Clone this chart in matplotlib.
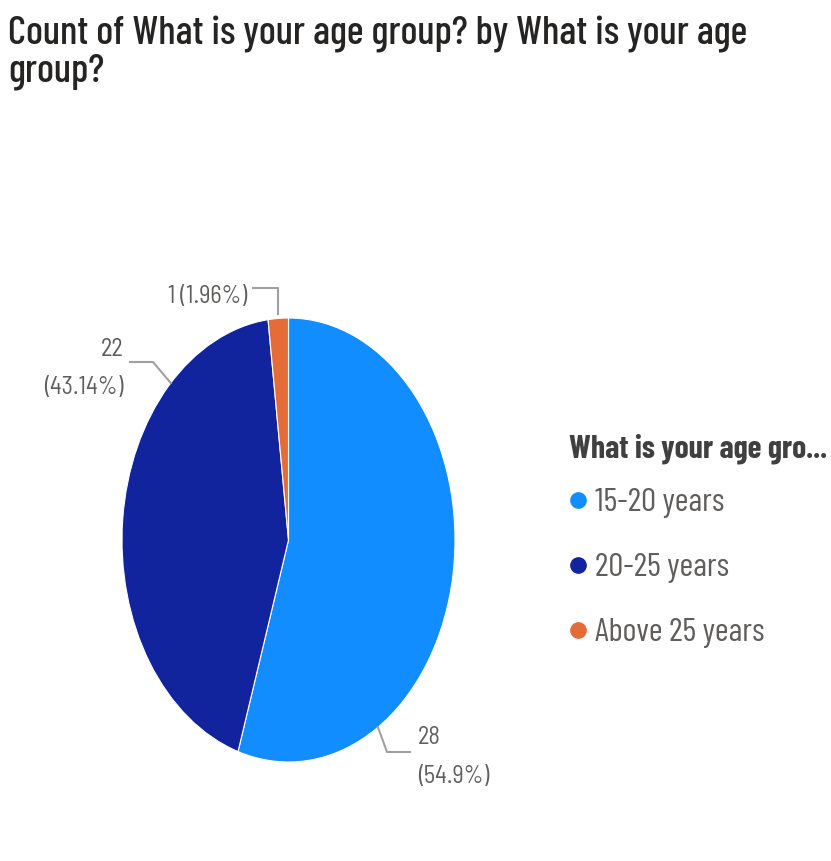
import matplotlib
matplotlib.use('Agg')
import numpy as np
import matplotlib.pyplot as plt
from matplotlib.lines import Line2D

# ---- data ----
title = "Count of What is your age group? by What is your age\ngroup?"
legend_title = "What is your age gro..."
categories = ["15-20 years", "20-25 years", "Above 25 years"]
counts = [28, 22, 1]
percents = ["54.9%", "43.14%", "1.96%"]
colors = ["#118DFF", "#12239E", "#E66C37"]

W, H = 831, 861
fig = plt.figure(figsize=(W / 100, H / 100), dpi=100)
FONT = "Barlow Condensed"
LBL_FONT = "Barlow Semi Condensed"

def fx(x):
    return x / W

def fy(y):
    return 1 - y / H

# pie axes (elliptical pie, as in the reference)
left, right, top, bottom = 122, 455, 318, 762
ax = fig.add_axes([fx(left), fy(bottom), (right - left) / W, (bottom - top) / H])
wedges, _ = ax.pie(counts, colors=colors, startangle=90, counterclock=False,
                   wedgeprops=dict(edgecolor="white", linewidth=0.8))
ax.set_aspect("auto")
ax.set_xlim(-1, 1)
ax.set_ylim(-1, 1)
ax.axis("off")

# title
fig.text(fx(8), fy(81), title, fontsize=28.7, family=FONT, weight=500,
         color="#252423", ha="left", va="baseline", linespacing=1.0)

# data labels with leader lines
lblc = "#605E5C"
linec = "#A0A0A0"
LS = 17.5

def ellipse_pt(deg):
    t = np.deg2rad(deg)
    d = ax.transData.transform((np.cos(t), np.sin(t)))
    return d[0], H - d[1]

def leader(pts):
    xs = [fx(p[0]) for p in pts]
    ys = [fy(p[1]) for p in pts]
    fig.add_artist(Line2D(xs, ys, transform=fig.transFigure, color=linec, lw=1.5))

# "1 (1.96%)"
a = ellipse_pt(93.5)
leader([(a[0], a[1] - 4), (a[0], 288), (253, 288)])
fig.text(fx(247), fy(296), f"{counts[2]} ({percents[2]})", fontsize=LS,
         family=LBL_FONT, color=lblc, ha="right", va="center")

# "22 (43.14%)"
a = ellipse_pt(135)
leader([(a[0], a[1]), (153, 362), (130, 362)])
fig.text(fx(123), fy(350), f"{counts[1]}", fontsize=LS, family=LBL_FONT,
         color=lblc, ha="right", va="center")
fig.text(fx(123), fy(387), f"({percents[1]})", fontsize=LS, family=LBL_FONT,
         color=lblc, ha="right", va="center")

# "28 (54.9%)"
a = ellipse_pt(-57.5)
leader([(a[0], a[1]), (387, 752), (410, 752)])
fig.text(fx(418), fy(737), f"{counts[0]}", fontsize=LS, family=LBL_FONT,
         color=lblc, ha="left", va="center")
fig.text(fx(418), fy(777), f"({percents[0]})", fontsize=LS, family=LBL_FONT,
         color=lblc, ha="left", va="center")

# legend title
fig.text(fx(569), fy(457), legend_title, fontsize=22.8, family=FONT,
         weight="bold", color="#404040", ha="left", va="baseline")

# legend entries
handles = [Line2D([], [], marker="o", linestyle="none", markersize=11,
                  markerfacecolor=c, markeredgecolor=c) for c in colors]
leg = fig.legend(handles, categories, loc="upper left",
                 bbox_to_anchor=(fx(568), fy(488)), frameon=False,
                 prop=dict(family=FONT, size=24), labelcolor="#605E5C",
                 handlelength=0.6, handletextpad=0.2, labelspacing=1.04,
                 borderpad=0, borderaxespad=0)

fig.savefig("out.png", dpi=100, facecolor="white")
